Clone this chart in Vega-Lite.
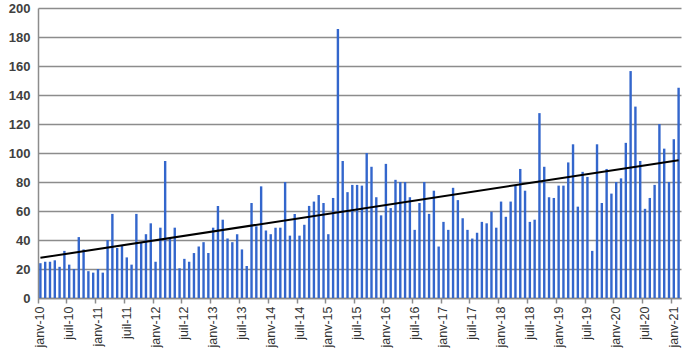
{
  "$schema": "https://vega.github.io/schema/vega-lite/v6.json",
  "width": 643,
  "height": 290,
  "autosize": {"type": "none"},
  "padding": {"left": 38, "top": 8, "right": 4, "bottom": 61},
  "background": "white",
  "config": {"view": {"stroke": null}},
  "datasets": {
    "monthly": [
      {"month": "2010-01", "value": 24}, {"month": "2010-02", "value": 25}, {"month": "2010-03", "value": 25}, {"month": "2010-04", "value": 26},
      {"month": "2010-05", "value": 21.5}, {"month": "2010-06", "value": 32.5}, {"month": "2010-07", "value": 23}, {"month": "2010-08", "value": 20},
      {"month": "2010-09", "value": 42}, {"month": "2010-10", "value": 33.5}, {"month": "2010-11", "value": 18.5}, {"month": "2010-12", "value": 17.5},
      {"month": "2011-01", "value": 20}, {"month": "2011-02", "value": 17.5}, {"month": "2011-03", "value": 40}, {"month": "2011-04", "value": 58},
      {"month": "2011-05", "value": 34.5}, {"month": "2011-06", "value": 36}, {"month": "2011-07", "value": 28}, {"month": "2011-08", "value": 23},
      {"month": "2011-09", "value": 58}, {"month": "2011-10", "value": 38}, {"month": "2011-11", "value": 44}, {"month": "2011-12", "value": 51.5},
      {"month": "2012-01", "value": 25}, {"month": "2012-02", "value": 48.5}, {"month": "2012-03", "value": 94.5}, {"month": "2012-04", "value": 41},
      {"month": "2012-05", "value": 48.5}, {"month": "2012-06", "value": 20.5}, {"month": "2012-07", "value": 27}, {"month": "2012-08", "value": 25},
      {"month": "2012-09", "value": 31}, {"month": "2012-10", "value": 35.5}, {"month": "2012-11", "value": 38.5}, {"month": "2012-12", "value": 31},
      {"month": "2013-01", "value": 48.5}, {"month": "2013-02", "value": 63.5}, {"month": "2013-03", "value": 54}, {"month": "2013-04", "value": 41},
      {"month": "2013-05", "value": 38.5}, {"month": "2013-06", "value": 44}, {"month": "2013-07", "value": 33.5}, {"month": "2013-08", "value": 22},
      {"month": "2013-09", "value": 65.5}, {"month": "2013-10", "value": 49.5}, {"month": "2013-11", "value": 77}, {"month": "2013-12", "value": 46.5},
      {"month": "2014-01", "value": 44}, {"month": "2014-02", "value": 48.5}, {"month": "2014-03", "value": 48.5}, {"month": "2014-04", "value": 80},
      {"month": "2014-05", "value": 43}, {"month": "2014-06", "value": 58}, {"month": "2014-07", "value": 43}, {"month": "2014-08", "value": 50.5},
      {"month": "2014-09", "value": 63.5}, {"month": "2014-10", "value": 66.5}, {"month": "2014-11", "value": 71}, {"month": "2014-12", "value": 65.5},
      {"month": "2015-01", "value": 44}, {"month": "2015-02", "value": 69}, {"month": "2015-03", "value": 185.5}, {"month": "2015-04", "value": 94.5},
      {"month": "2015-05", "value": 73}, {"month": "2015-06", "value": 78}, {"month": "2015-07", "value": 78}, {"month": "2015-08", "value": 77.5},
      {"month": "2015-09", "value": 100}, {"month": "2015-10", "value": 90.5}, {"month": "2015-11", "value": 69.5}, {"month": "2015-12", "value": 57},
      {"month": "2016-01", "value": 92.5}, {"month": "2016-02", "value": 62}, {"month": "2016-03", "value": 81.5}, {"month": "2016-04", "value": 80},
      {"month": "2016-05", "value": 80}, {"month": "2016-06", "value": 69.5}, {"month": "2016-07", "value": 47}, {"month": "2016-08", "value": 65.5},
      {"month": "2016-09", "value": 80}, {"month": "2016-10", "value": 58}, {"month": "2016-11", "value": 74}, {"month": "2016-12", "value": 35.5},
      {"month": "2017-01", "value": 52.5}, {"month": "2017-02", "value": 47}, {"month": "2017-03", "value": 76}, {"month": "2017-04", "value": 67.5},
      {"month": "2017-05", "value": 55}, {"month": "2017-06", "value": 47}, {"month": "2017-07", "value": 41}, {"month": "2017-08", "value": 45},
      {"month": "2017-09", "value": 52.5}, {"month": "2017-10", "value": 51.5}, {"month": "2017-11", "value": 59.5}, {"month": "2017-12", "value": 48.5},
      {"month": "2018-01", "value": 66.5}, {"month": "2018-02", "value": 56}, {"month": "2018-03", "value": 66.5}, {"month": "2018-04", "value": 77.5},
      {"month": "2018-05", "value": 89}, {"month": "2018-06", "value": 74}, {"month": "2018-07", "value": 52.5}, {"month": "2018-08", "value": 54},
      {"month": "2018-09", "value": 127.5}, {"month": "2018-10", "value": 90.5}, {"month": "2018-11", "value": 69.5}, {"month": "2018-12", "value": 69},
      {"month": "2019-01", "value": 77.5}, {"month": "2019-02", "value": 77.5}, {"month": "2019-03", "value": 93.5}, {"month": "2019-04", "value": 106},
      {"month": "2019-05", "value": 63}, {"month": "2019-06", "value": 87}, {"month": "2019-07", "value": 83.5}, {"month": "2019-08", "value": 32.5},
      {"month": "2019-09", "value": 106}, {"month": "2019-10", "value": 65.5}, {"month": "2019-11", "value": 89}, {"month": "2019-12", "value": 72},
      {"month": "2020-01", "value": 80}, {"month": "2020-02", "value": 82.5}, {"month": "2020-03", "value": 107}, {"month": "2020-04", "value": 156.5},
      {"month": "2020-05", "value": 132}, {"month": "2020-06", "value": 94.5}, {"month": "2020-07", "value": 61.5}, {"month": "2020-08", "value": 69},
      {"month": "2020-09", "value": 78}, {"month": "2020-10", "value": 120}, {"month": "2020-11", "value": 103}, {"month": "2020-12", "value": 80},
      {"month": "2021-01", "value": 109.5}, {"month": "2021-02", "value": 145}
    ],
    "trend": [
      {"month": "2010-01", "value": 27.7},
      {"month": "2021-02", "value": 95}
    ]
  },
  "encoding": {
    "x": {
      "field": "month",
      "type": "ordinal",
      "sort": null,
      "title": null,
      "scale": {"paddingInner": 0, "paddingOuter": 0},
      "axis": {
        "values": ["2010-01","2010-07","2011-01","2011-07","2012-01","2012-07","2013-01","2013-07","2014-01","2014-07","2015-01","2015-07","2016-01","2016-07","2017-01","2017-07","2018-01","2018-07","2019-01","2019-07","2020-01","2020-07","2021-01"],
        "labelExpr": "(slice(datum.value,5,7)=='01' ? 'janv-' : 'juil-') + slice(datum.value,2,4)",
        "bandPosition": 0,
        "labelAngle": -90,
        "labelFont": "Liberation Sans",
        "labelFontSize": 12.5,
        "labelColor": "#333333",
        "labelPadding": 3,
        "domainColor": "#8c8c8c",
        "domainWidth": 1.5,
        "tickColor": "#8c8c8c",
        "tickWidth": 1.5,
        "tickSize": 5,
        "grid": false
      }
    },
    "y": {
      "field": "value",
      "type": "quantitative",
      "title": null,
      "scale": {"domain": [0, 200], "nice": false},
      "axis": {
        "values": [0,20,40,60,80,100,120,140,160,180,200],
        "labelOverlap": false,
        "grid": true,
        "gridColor": "#8c8c8c",
        "gridWidth": 1.5,
        "ticks": false,
        "labelPadding": 8,
        "labelFont": "Liberation Sans",
        "labelFontSize": 13,
        "labelFontWeight": "bold",
        "labelColor": "#404040",
        "domainColor": "#8c8c8c",
        "domainWidth": 1.5
      }
    }
  },
  "layer": [
    {
      "data": {"name": "monthly"},
      "mark": {"type": "bar", "color": "#3366cc", "width": {"band": 0.5}}
    },
    {
      "data": {"name": "trend"},
      "mark": {"type": "line", "color": "black", "strokeWidth": 2}
    }
  ]
}
